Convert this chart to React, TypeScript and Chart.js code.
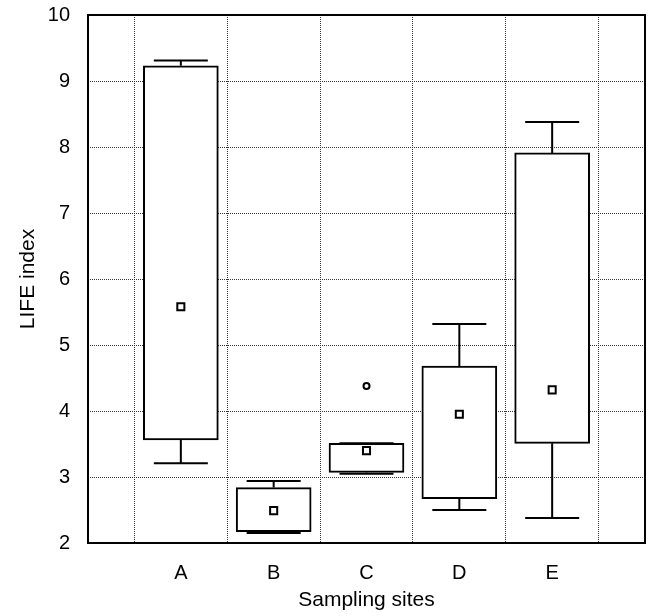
import React, { useEffect, useRef } from "react";
import { Chart, registerables } from "chart.js";

Chart.register(...registerables);

const categories = ["", "A", "B", "C", "D", "E", ""];
const whiskerMin = [null, 3.21, 2.15, 3.05, 2.5, 2.38, null];
const boxLow = [null, 3.56, 2.17, 3.07, 2.67, 3.51, null];
const boxHigh = [null, 9.23, 2.84, 3.51, 4.68, 7.91, null];
const whiskerMax = [null, 9.31, 2.94, 3.51, 5.32, 8.38, null];
const means = [null, 5.58, 2.49, 3.4, 3.95, 4.32, null];
const outliers = [null, null, null, 4.38, null, null, null];
const yTicks = [2, 3, 4, 5, 6, 7, 8, 9, 10];

const FONT = "'Liberation Sans', Arial, sans-serif";

const whiskerPlugin = {
  id: "whiskers",
  afterDatasetsDraw(chart: any) {
    const { ctx, scales } = chart;
    const xs = scales.x;
    const ys = scales.y;
    ctx.save();
    ctx.strokeStyle = "#000";
    ctx.lineWidth = 2;
    const capHalf = 27;
    for (let i = 0; i < categories.length; i++) {
      const lo = whiskerMin[i];
      const hi = whiskerMax[i];
      if (lo == null || hi == null) continue;
      const x = xs.getPixelForValue(i);
      const yLo = ys.getPixelForValue(lo);
      const yHi = ys.getPixelForValue(hi);
      const yQ1 = ys.getPixelForValue(boxLow[i] as number);
      const yQ3 = ys.getPixelForValue(boxHigh[i] as number);
      ctx.beginPath();
      ctx.moveTo(x, yQ3);
      ctx.lineTo(x, yHi);
      ctx.moveTo(x, yQ1);
      ctx.lineTo(x, yLo);
      ctx.moveTo(x - capHalf, yHi);
      ctx.lineTo(x + capHalf, yHi);
      ctx.moveTo(x - capHalf, yLo);
      ctx.lineTo(x + capHalf, yLo);
      ctx.stroke();
    }
    ctx.restore();
  },
  afterDraw(chart: any) {
    const { ctx, chartArea } = chart;
    ctx.save();
    ctx.strokeStyle = "#000";
    ctx.lineWidth = 2;
    ctx.strokeRect(
      chartArea.left,
      chartArea.top,
      chartArea.right - chartArea.left,
      chartArea.bottom - chartArea.top
    );
    ctx.restore();
  },
};

const zeroPad = (s: any) => {
  s.paddingLeft = 0;
  s.paddingRight = 0;
  s.paddingTop = 0;
  s.paddingBottom = 0;
};

export default function App() {
  const ref = useRef<HTMLCanvasElement | null>(null);
  useEffect(() => {
    if (!ref.current) return;
    const chart = new Chart(ref.current, {
      type: "bar",
      data: {
        labels: categories,
        datasets: [
          {
            type: "bar",
            label: "box",
            data: boxLow.map((lo, i) =>
              lo == null ? null : [lo, boxHigh[i] as number]
            ) as any,
            backgroundColor: "#fff",
            borderColor: "#000",
            borderWidth: 2,
            borderSkipped: false,
            barThickness: 75,
            order: 2,
          },
          {
            type: "line",
            label: "mean",
            data: means as any,
            showLine: false,
            pointStyle: "rect",
            pointRadius: 5,
            pointBorderWidth: 2,
            pointBackgroundColor: "#fff",
            pointBorderColor: "#000",
            order: 1,
          },
          {
            type: "line",
            label: "outlier",
            data: outliers as any,
            showLine: false,
            pointStyle: "circle",
            pointRadius: 3,
            pointBorderWidth: 2,
            pointBackgroundColor: "#fff",
            pointBorderColor: "#000",
            order: 0,
          },
        ],
      },
      options: {
        animation: false,
        responsive: false,
        layout: {
          autoPadding: false,
          padding: { left: 0, right: 3, top: 15, bottom: 0 },
        },
        plugins: {
          legend: { display: false },
          tooltip: { enabled: false },
        },
        scales: {
          x: {
            type: "category",
            offset: false,
            afterFit: (s: any) => {
              s.height = 73;
              zeroPad(s);
            },
            grid: {
              display: true,
              color: "#333",
              lineWidth: 1,
              drawTicks: false,
            },
            border: { display: false, dash: [1, 1] },
            ticks: {
              color: "#000",
              padding: 18,
              font: { family: FONT, size: 20 },
              autoSkip: false,
              maxRotation: 0,
            },
            title: {
              display: true,
              text: "Sampling sites",
              color: "#000",
              font: { family: FONT, size: 21 },
              padding: { top: 0, bottom: 3 },
            },
          },
          y: {
            type: "linear",
            min: 2,
            max: 10,
            afterFit: (s: any) => {
              s.width = 88;
              zeroPad(s);
            },
            afterBuildTicks: (s: any) => {
              s.ticks = yTicks.map((v) => ({ value: v }));
            },
            grid: {
              display: true,
              color: "#333",
              lineWidth: 1,
              drawTicks: false,
            },
            border: { display: false, dash: [1, 1] },
            ticks: {
              color: "#000",
              padding: 18,
              font: { family: FONT, size: 20 },
            },
            title: {
              display: true,
              text: "LIFE index",
              color: "#000",
              font: { family: FONT, size: 21 },
              padding: { top: 16, bottom: 0 },
            },
          },
        },
      },
      plugins: [whiskerPlugin],
    });
    return () => chart.destroy();
  }, []);
  return (
    <div style={{ position: "fixed", left: 0, top: 0, width: 648, height: 616, background: "#fff" }}>
      <canvas ref={ref} width={648} height={616} style={{ width: 648, height: 616 }} />
    </div>
  );
}
